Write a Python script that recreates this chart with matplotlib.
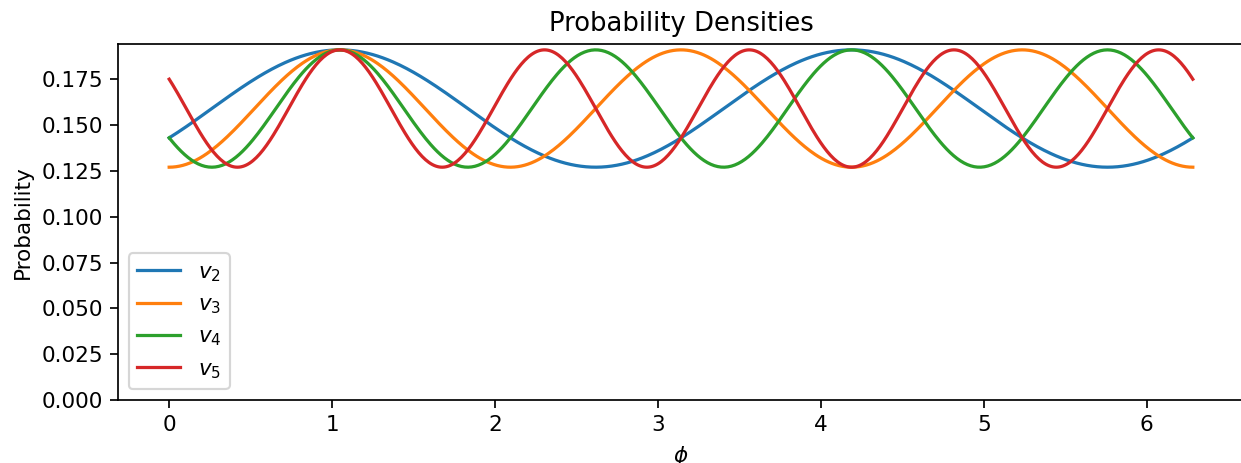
import numpy as np
import matplotlib
matplotlib.use("Agg")
import matplotlib.pyplot as plt

# Angular probability densities p(phi) for the modes v2..v5
labels = [r"$v_2$", r"$v_3$", r"$v_4$", r"$v_5$"]
harmonics = [2, 3, 4, 5]          # number of lobes over 0..2pi
peak_phase = np.pi / 3            # all modes share a maximum here
p_max = 0.191                     # peak density
p_min = 0.127                     # trough density

phi = np.linspace(0, 2 * np.pi, 600)
mean = (p_max + p_min) / 2
amp = (p_max - p_min) / 2

DPI = 155
fig = plt.figure(figsize=(1241 / DPI, 463 / DPI), dpi=DPI)
ax = fig.add_axes([118 / 1241, 63 / 463, 1126 / 1241, 356 / 463])

for lab, n in zip(labels, harmonics):
    ax.plot(phi, mean + amp * np.cos(n * (phi - peak_phase)), label=lab, lw=1.5)

ax.set_ylim(bottom=0)
ax.set_title("Probability Densities")
ax.set_xlabel(r"$\phi$")
ax.set_ylabel("Probability")
ax.legend(loc="lower left")

fig.savefig("out.png", dpi=DPI)
